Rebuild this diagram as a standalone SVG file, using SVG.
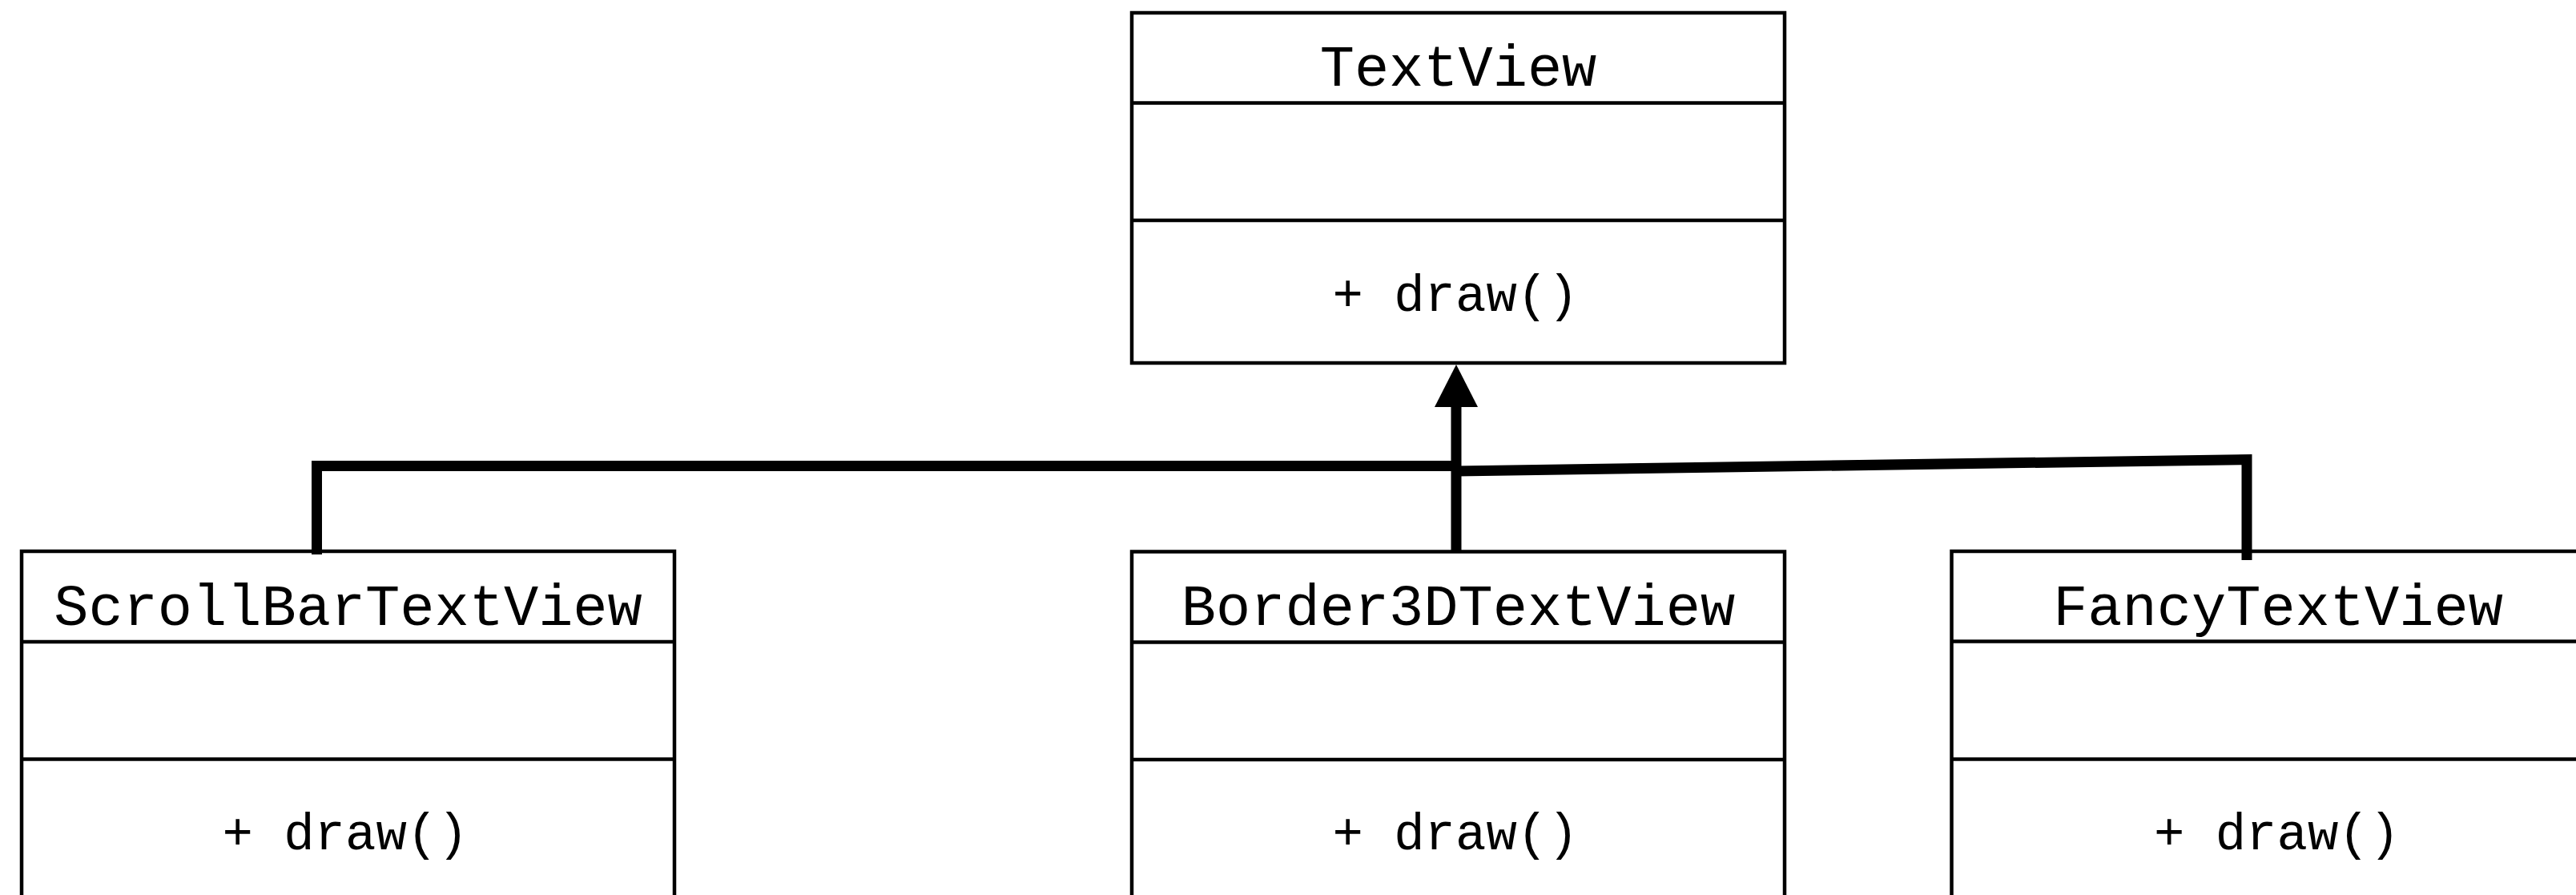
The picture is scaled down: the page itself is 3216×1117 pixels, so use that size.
<svg xmlns="http://www.w3.org/2000/svg" width="3216" height="1117" viewBox="0 0 3216 1117">
  <style>
    .box { fill: #ffffff; stroke: #000000; stroke-width: 4.5; }
    .sep { stroke: #000000; stroke-width: 4.5; }
    .name, .op { font-family: "Liberation Mono", "Courier New", monospace; fill: #000000; text-anchor: middle; }
    .name { font-size: 72px; }
    .op { font-size: 64px; }
    .link { fill: none; stroke: #000000; stroke-width: 13; stroke-linejoin: miter; stroke-linecap: butt; }
    .head { fill: #000000; }
  </style>

  <rect width="3216" height="1117" fill="#ffffff"/>

  <!-- Base class -->
  <g id="TextView">
    <rect class="box" x="1413" y="16" width="815" height="437"/>
    <line class="sep" x1="1413" y1="128.5" x2="2228" y2="128.5"/>
    <line class="sep" x1="1413" y1="275" x2="2228" y2="275"/>
    <text class="name" x="1820.5" y="107">TextView</text>
    <text class="op" x="1817" y="388">+ draw()</text>
  </g>

  <!-- Subclasses -->
  <g id="ScrollBarTextView">
    <rect class="box" x="27" y="688" width="815" height="437"/>
    <line class="sep" x1="27" y1="801" x2="842" y2="801"/>
    <line class="sep" x1="27" y1="947.5" x2="842" y2="947.5"/>
    <text class="name" x="434.5" y="780">ScrollBarTextView</text>
    <text class="op" x="431" y="1060">+ draw()</text>
  </g>

  <g id="Border3DTextView">
    <rect class="box" x="1413" y="688.5" width="815" height="437"/>
    <line class="sep" x1="1413" y1="801.5" x2="2228" y2="801.5"/>
    <line class="sep" x1="1413" y1="948" x2="2228" y2="948"/>
    <text class="name" x="1820.5" y="780">Border3DTextView</text>
    <text class="op" x="1817" y="1060">+ draw()</text>
  </g>

  <g id="FancyTextView">
    <rect class="box" x="2436.5" y="688" width="815" height="437"/>
    <line class="sep" x1="2436.5" y1="800.5" x2="3251.5" y2="800.5"/>
    <line class="sep" x1="2436.5" y1="947.5" x2="3251.5" y2="947.5"/>
    <text class="name" x="2844" y="780">FancyTextView</text>
    <text class="op" x="2842.5" y="1060">+ draw()</text>
  </g>

  <!-- Generalization connectors -->
  <g id="connectors">
    <polyline class="link" points="395.5,692 395.5,581.5 1818,581.5"/>
    <polyline class="link" points="1818,588 2805,573.5 2805,699"/>
    <line class="link" x1="1818" y1="688" x2="1818" y2="506"/>
    <polygon class="head" points="1818,455 1845,508 1791,508"/>
  </g>
</svg>
